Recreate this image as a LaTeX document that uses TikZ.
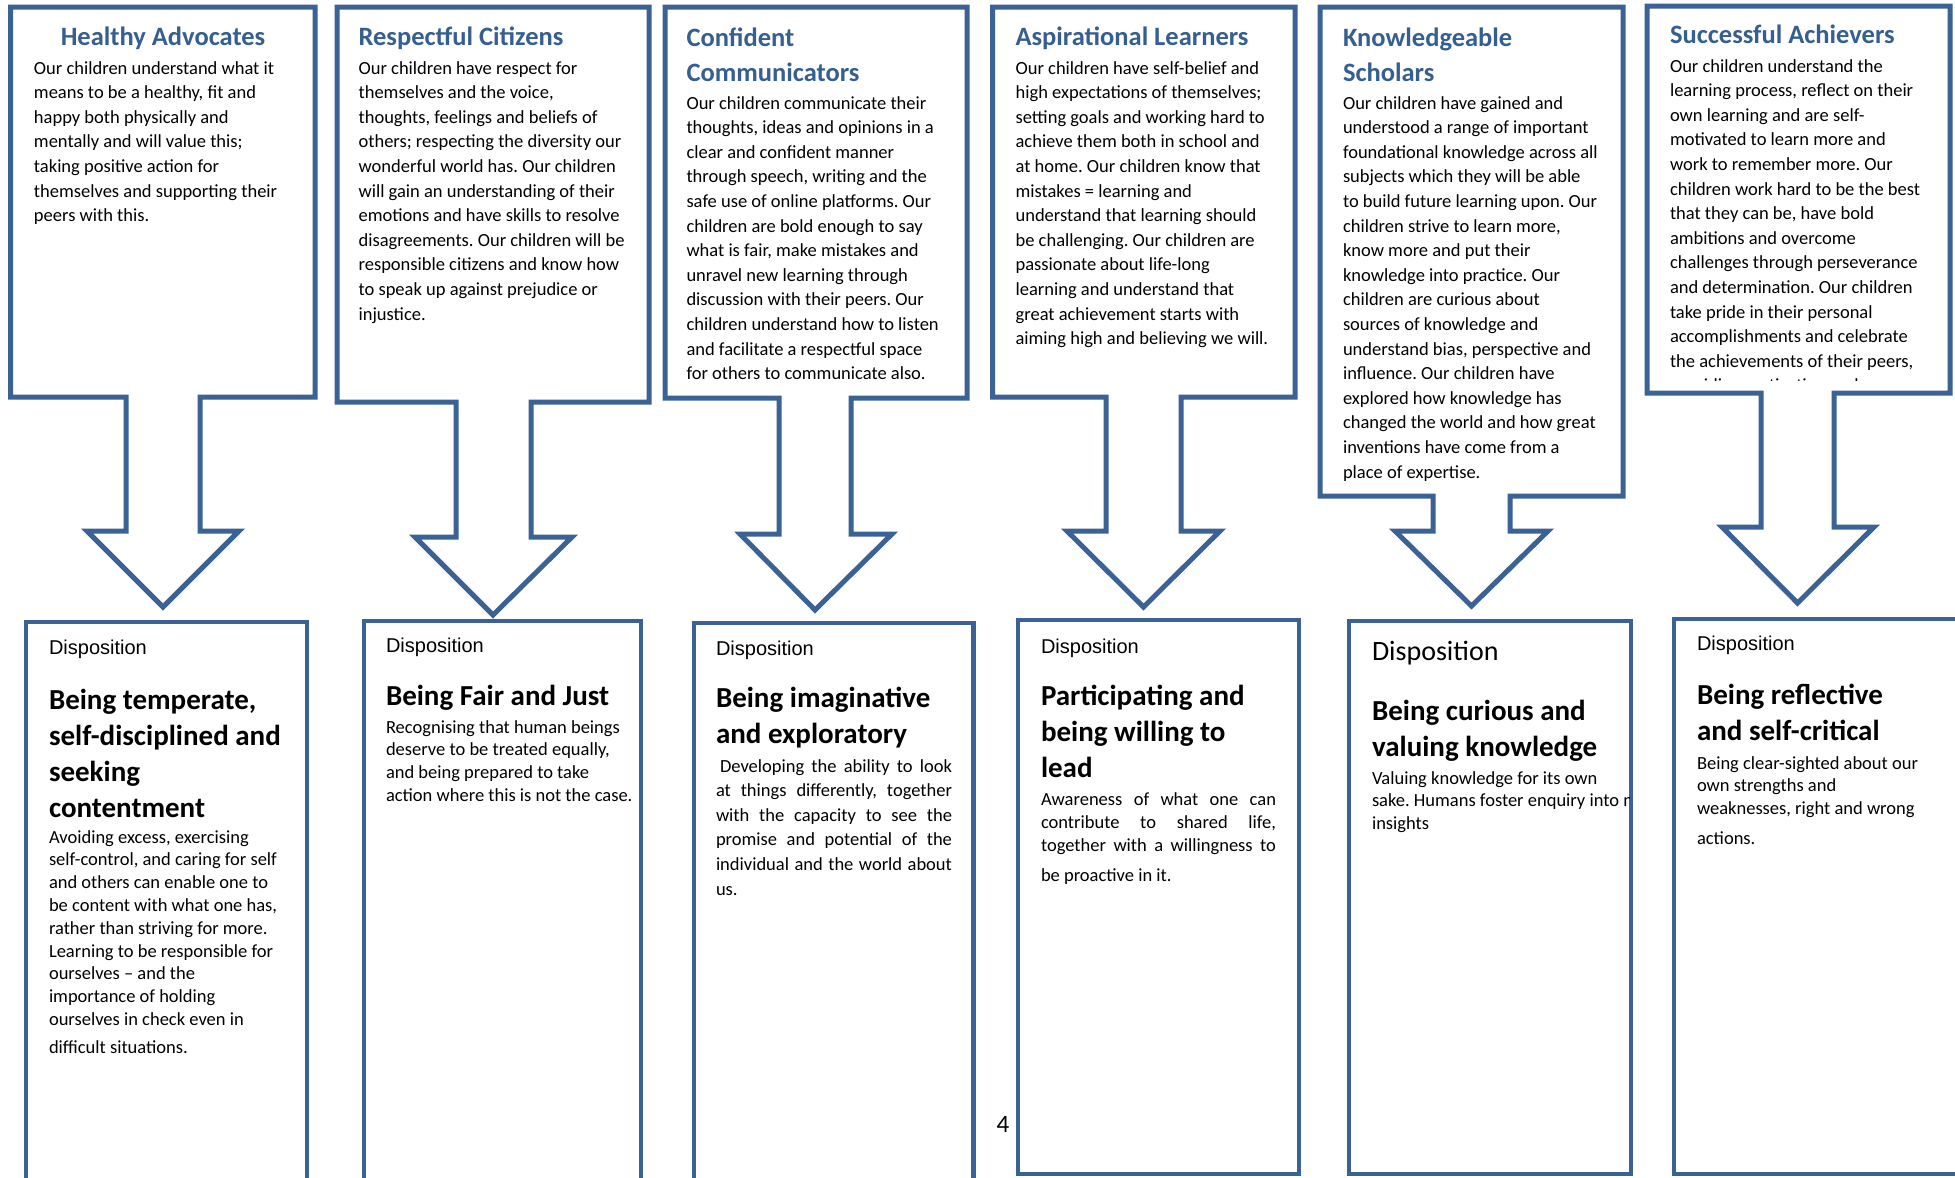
\documentclass[tikz,border=0pt]{standalone}
\usepackage{fontspec}
\setmainfont{Carlito}
\newfontfamily\arialf{Liberation Sans}
\definecolor{bord}{RGB}{58,98,148}
\definecolor{ttl}{RGB}{54,95,145}
\newcommand{\bodyf}{\fontsize{18.5}{24.6}\selectfont}
\newcommand{\bodyg}{\fontsize{18.5}{22.8}\selectfont}
\newcommand{\ttlf}{\fontsize{26.5}{35}\selectfont\bfseries}
\newcommand{\hdf}{\fontsize{29}{36.2}\selectfont\bfseries}
\newcommand{\dispf}{\arialf\fontsize{20}{24}\selectfont}
\newcommand{\pb}[1]{\parbox[t]{400pt}{#1}}
\frenchspacing
\begin{document}
\begin{tikzpicture}[x=1pt,y=-1pt,
  callout/.style={draw=bord,line width=5pt,fill=white,line join=miter},
  dbox/.style={draw=bord,line width=4.5pt,fill=white,anchor=north west,inner sep=0pt,outer sep=0pt},
  txt/.style={anchor=base west,inner sep=0pt,outer sep=0pt},
  ttlnode/.style={txt,text=ttl,font=\ttlf},
  bodynode/.style={txt,font=\bodyf},
  gbody/.style={txt,font=\bodyg},
  hdnode/.style={txt,font=\hdf},
  dispnode/.style={txt,font=\dispf}]
\useasboundingbox (0,0) rectangle (1955,1178);
\fill[white] (0,0) rectangle (1955,1178);

% ---------- callouts (box + down arrow) ----------
\draw[callout] (10.5,7) -- (315,7) -- (315,397) -- (200,397) -- (200,531) -- (239,531) -- (163,607) -- (87,531) -- (126,531) -- (126,397) -- (10.5,397) -- cycle;
\draw[callout] (337,7) -- (649,7) -- (649,402) -- (531,402) -- (531,537) -- (572,537) -- (493,615) -- (415,537) -- (456,537) -- (456,402) -- (337,402) -- cycle;
\draw[callout] (665,7) -- (967,7) -- (967,398) -- (851,398) -- (851,534) -- (892,534) -- (815,610) -- (740,534) -- (779,534) -- (779,398) -- (665,398) -- cycle;
\draw[callout] (992.5,7) -- (1295,7) -- (1295,397) -- (1181,397) -- (1181,531) -- (1220,531) -- (1143.5,607) -- (1067,531) -- (1106,531) -- (1106,397) -- (992.5,397) -- cycle;
\draw[callout] (1320,7) -- (1623,7) -- (1623,496) -- (1510,496) -- (1510,531) -- (1548,531) -- (1471.5,606) -- (1395,531) -- (1433,531) -- (1433,496) -- (1320,496) -- cycle;
\draw[callout] (1647,6) -- (1950,6) -- (1950,393) -- (1834,393) -- (1834,527) -- (1874,527) -- (1797.5,603) -- (1722,527) -- (1761,527) -- (1761,393) -- (1647,393) -- cycle;

% ---------- bottom boxes ----------
\node[dbox,minimum width=281pt,minimum height=560pt] (d1) at (26,622) {};
\node[dbox,minimum width=277pt,minimum height=561pt] (d2) at (364,621) {};
\node[dbox,minimum width=279.5pt,minimum height=559pt] (d3) at (694,623) {};
\node[dbox,minimum width=281pt,minimum height=554pt] (d4) at (1018,620) {};
\node[dbox,minimum width=282pt,minimum height=553pt] (d5) at (1349,621) {};
\node[dbox,minimum width=288pt,minimum height=555pt] (d6) at (1674,619) {};

% ---------- top texts ----------
\node[ttlnode,anchor=base] (h1) at (163,45) {Healthy Advocates};
\node[bodynode] (b1) at (34,74) {\pb{Our children understand what it\\
means to be a healthy, fit and\\
happy both physically and\\
mentally and will value this;\\
taking positive action for\\
themselves and supporting their\\
peers with this.}};

\node[ttlnode] (h2) at (358.6,45) {Respectful Citizens};
\node[bodynode] (b2) at (358.6,74) {\pb{Our children have respect for\\
themselves and the voice,\\
thoughts, feelings and beliefs of\\
others; respecting the diversity our\\
wonderful world has. Our children\\
will gain an understanding of their\\
emotions and have skills to resolve\\
disagreements. Our children will be\\
responsible citizens and know how\\
to speak up against prejudice or\\
injustice.}};

\node[ttlnode] (h3) at (686.5,46) {\pb{Confident\\Communicators}};
\node[bodynode] (b3) at (686.5,109) {\pb{Our children communicate their\\
thoughts, ideas and opinions in a\\
clear and confident manner\\
through speech, writing and the\\
safe use of online platforms. Our\\
children are bold enough to say\\
what is fair, make mistakes and\\
unravel new learning through\\
discussion with their peers. Our\\
children understand how to listen\\
and facilitate a respectful space\\
for others to communicate also.}};

\node[ttlnode] (h4) at (1015.6,45) {Aspirational Learners};
\node[bodynode] (b4) at (1015.6,74) {\pb{Our children have self-belief and\\
high expectations of themselves;\\
setting goals and working hard to\\
achieve them both in school and\\
at home. Our children know that\\
mistakes = learning and\\
understand that learning should\\
be challenging. Our children are\\
passionate about life-long\\
learning and understand that\\
great achievement starts with\\
aiming high and believing we will.}};

\node[ttlnode] (h5) at (1343,46) {\pb{Knowledgeable\\Scholars}};
\node[bodynode] (b5) at (1343,109) {\pb{Our children have gained and\\
understood a range of important\\
foundational knowledge across all\\
subjects which they will be able\\
to build future learning upon. Our\\
children strive to learn more,\\
know more and put their\\
knowledge into practice. Our\\
children are curious about\\
sources of knowledge and\\
understand bias, perspective and\\
influence. Our children have\\
explored how knowledge has\\
changed the world and how great\\
inventions have come from a\\
place of expertise.}};

\node[ttlnode] (h6) at (1670,43) {Successful Achievers};
\begin{scope}
\clip (1650,10) rectangle (1946,380.5);
\node[bodynode] (b6) at (1670,72) {\pb{Our children understand the\\
learning process, reflect on their\\
own learning and are self-\\
motivated to learn more and\\
work to remember more. Our\\
children work hard to be the best\\
that they can be, have bold\\
ambitions and overcome\\
challenges through perseverance\\
and determination. Our children\\
take pride in their personal\\
accomplishments and celebrate\\
the achievements of their peers,\\
providing motivation and}};
\end{scope}

% ---------- bottom texts ----------
\node[dispnode] (p1) at (49,654) {Disposition};
\node[hdnode] (q1) at (49,709) {\pb{Being temperate,\\self-disciplined and\\seeking\\contentment}};
\node[gbody] (r1) at (49,843) {\pb{Avoiding excess, exercising\\
self-control, and caring for self\\
and others can enable one to\\
be content with what one has,\\
rather than striving for more.\\
Learning to be responsible for\\
ourselves -- and the\\
importance of holding\\
ourselves in check even in\\[5.7pt]
difficult situations.}};

\node[dispnode] (p2) at (386,652.7) {Disposition};
\node[hdnode] (q2) at (386,705) {Being Fair and Just};
\node[gbody] (r2) at (386,733) {\pb{Recognising that human beings\\
deserve to be treated equally,\\
and being prepared to take\\
action where this is not the case.}};

\node[dispnode] (p3) at (716,655) {Disposition};
\node[hdnode] (q3) at (716,707) {\pb{Being imaginative\\and exploratory}};
\node[bodynode] (r3) at (716,772) {\pb{\makebox[236pt][s]{\hspace*{4pt}Developing the ability to look}\\
\makebox[236pt][s]{at things differently, together}\\
\makebox[236pt][s]{with the capacity to see the}\\
\makebox[236pt][s]{promise and potential of the}\\
\makebox[236pt][s]{individual and the world about}\\
us.}};

\node[dispnode] (p4) at (1041,653) {Disposition};
\node[hdnode] (q4) at (1041,705.5) {\pb{Participating and\\being willing to\\lead}};
\node[txt,font=\fontsize{18.5}{23.3}\selectfont] (r4) at (1041,805) {\pb{\makebox[235pt][s]{Awareness of what one can}\\
\makebox[235pt][s]{contribute to shared life,}\\
\makebox[235pt][s]{together with a willingness to}\\[7pt]
be proactive in it.}};

\node[txt,font=\fontsize{28}{30}\selectfont] (p5) at (1372,660) {Disposition};
\node[hdnode] (q5) at (1372,720) {\pb{Being curious and\\valuing knowledge}};
\begin{scope}
\clip (1352,760) rectangle (1629,860);
\node[gbody] (r5) at (1372,784) {\pb{Valuing knowledge for its own\\
sake. Humans foster enquiry into new\\
insights}};
\end{scope}

\node[dispnode] (p6) at (1697,650) {Disposition};
\node[hdnode] (q6) at (1697,704) {\pb{Being reflective\\and self-critical}};
\node[gbody] (r6) at (1697,769) {\pb{Being clear-sighted about our\\
own strengths and\\
weaknesses, right and wrong\\[7pt]
actions.}};

\node[inner sep=0pt,font=\fontsize{25}{25}\selectfont] (pg) at (1003,1124) {4};
\end{tikzpicture}
\end{document}
